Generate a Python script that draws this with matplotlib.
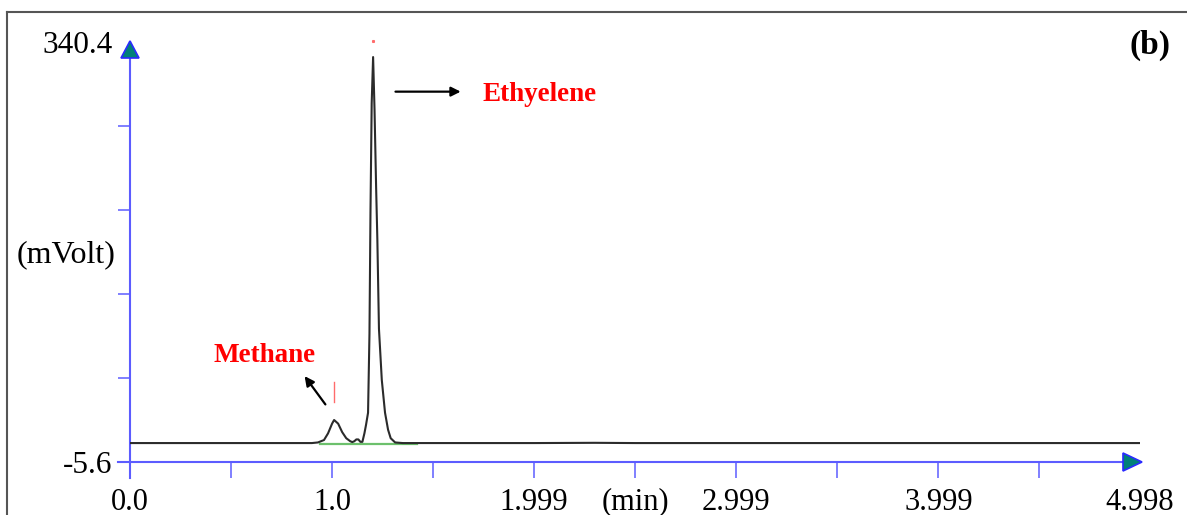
import matplotlib.pyplot as plt
import matplotlib.lines as mlines
from matplotlib.patches import Polygon

# chromatogram trace (time in min, signal in mVolt)
t = [0.0, 0.5, 0.9, 0.93, 0.96, 0.98, 1.00, 1.01, 1.03, 1.05, 1.07, 1.09,
     1.10, 1.11, 1.12, 1.13, 1.14, 1.15, 1.16, 1.168, 1.178, 1.185, 1.190,
     1.196, 1.203, 1.210, 1.218, 1.224, 1.232, 1.246, 1.262, 1.277, 1.29,
     1.312, 1.35, 1.6, 2.0, 2.3, 2.5, 3.0, 3.5, 4.0, 4.5, 4.998]
mv = [10.0, 10.0, 10.0, 10.5, 12.5, 18.0, 26.0, 29.0, 26.0, 19.0, 14.0, 11.5,
      10.8, 11.5, 13.0, 13.0, 11.0, 11.0, 18.0, 25.0, 35.0, 100.0, 200.0,
      290.0, 328.0, 285.0, 220.0, 178.0, 104.0, 62.0, 35.0, 21.0, 14.0,
      10.5, 10.0, 10.0, 10.0, 10.2, 10.0, 10.0, 10.0, 10.0, 10.0, 10.0]

# integration baseline (green)
base_t = [0.94, 1.42]
base_mv = [9.6, 9.6]

# peak markers (red)
methane_t, methane_mark = 1.01, (44.0, 60.0)
ethylene_t, ethylene_mark = 1.203, 341.0

y_min, y_max = -5.6, 340.4
t_max = 4.998
x_ticks = [0.0, 0.5, 1.0, 1.5, 2.0, 2.5, 3.0, 3.5, 4.0, 4.5, t_max]
x_labels = ["0.0", "", "1.0", "", "1.999", "(min)", "2.999", "", "3.999", "", "4.998"]
y_ticks = [-5.6, 63.6, 132.8, 202.0, 271.2, 340.4]
y_labels = ["-5.6", "", "", "", "", "340.4"]

plt.rcParams["font.family"] = ["Liberation Serif", "DejaVu Serif"]
blue = "#5c5cff"
teal = "#00807a"

fig = plt.figure(figsize=(11.87, 5.15), dpi=100)
ax = fig.add_axes([130 / 1187, 1 - 462 / 515, 1010 / 1187, 420 / 515])
ax.set_xlim(0, t_max)
ax.set_ylim(y_min, y_max)
for s in ax.spines.values():
    s.set_visible(False)

# axes lines
ax.plot([-0.06, t_max], [y_min, y_min], color=blue, lw=1.5, clip_on=False, zorder=3)
ax.plot([0, 0], [y_min - 13.5, y_max], color=blue, lw=1.5, clip_on=False, zorder=3)

ax.set_xticks(x_ticks)
ax.set_xticklabels(x_labels, fontsize=22)
ax.set_yticks(y_ticks)
ax.set_yticklabels(y_labels, fontsize=22.5)
ax.tick_params(axis="x", direction="out", length=11.5, width=1.1, color=blue, pad=7)
ax.tick_params(axis="y", direction="out", length=8.6, width=1.1, color=blue, pad=4)
ax.xaxis.get_major_ticks()[-1].tick1line.set_visible(False)
ax.yaxis.get_major_ticks()[-1].tick1line.set_visible(False)
ax.yaxis.get_major_ticks()[0].tick1line.set_visible(False)

# arrow heads in pixel-based figure coords
def fig_xy(px, py):
    return (px / 1187, 1 - py / 515)

up = Polygon([fig_xy(121, 58), fig_xy(139, 58), fig_xy(130, 41)], closed=True,
             facecolor=teal, edgecolor="#2a2aff", lw=1.2, transform=fig.transFigure)
right = Polygon([fig_xy(1123, 453), fig_xy(1123, 471), fig_xy(1142, 462)], closed=True,
                facecolor=teal, edgecolor="#2a2aff", lw=1.2, transform=fig.transFigure)
fig.add_artist(up)
fig.add_artist(right)

# trace
ax.plot(base_t, base_mv, color="#6cc06c", lw=1.6, zorder=2)
ax.plot(t, mv, color="#2b2b2b", lw=1.5, zorder=4)

# peak markers
ax.plot([methane_t, methane_t], methane_mark, color="#ff6b6b", lw=1.0)
ax.plot([ethylene_t], [ethylene_mark], marker="s", ms=1.2, color="#ff6b6b",
        clip_on=False, ls="none")

# annotations
ax.annotate("", xy=(1.65, 299.5), xytext=(1.30, 299.5),
            arrowprops=dict(arrowstyle="-|>", color="black", lw=1.6, mutation_scale=14))
ax.text(1.743, 297, "Ethyelene", color="#ff0000", fontsize=19.5, fontweight="bold",
        ha="left", va="center")
ax.annotate("", xy=(0.856, 67), xytext=(0.975, 40),
            arrowprops=dict(arrowstyle="-|>", color="black", lw=1.6, mutation_scale=14))
ax.text(0.668, 82.5, "Methane", color="#ff0000", fontsize=19.5, fontweight="bold",
        ha="center", va="center")

fig.text(66 / 1187, 1 - 255 / 515, "(mVolt)", fontsize=23, ha="center", va="center")
fig.text(1150 / 1187, 1 - 45 / 515, "(b)", fontsize=24, fontweight="bold",
         ha="center", va="center")

# outer frame
fig.add_artist(mlines.Line2D([7 / 1187, 1], [1 - 12 / 515] * 2, color="#555555", lw=1.5))
fig.add_artist(mlines.Line2D([7 / 1187] * 2, [0, 1 - 12 / 515], color="#555555", lw=1.5))

fig.savefig("out.png", dpi=100)
